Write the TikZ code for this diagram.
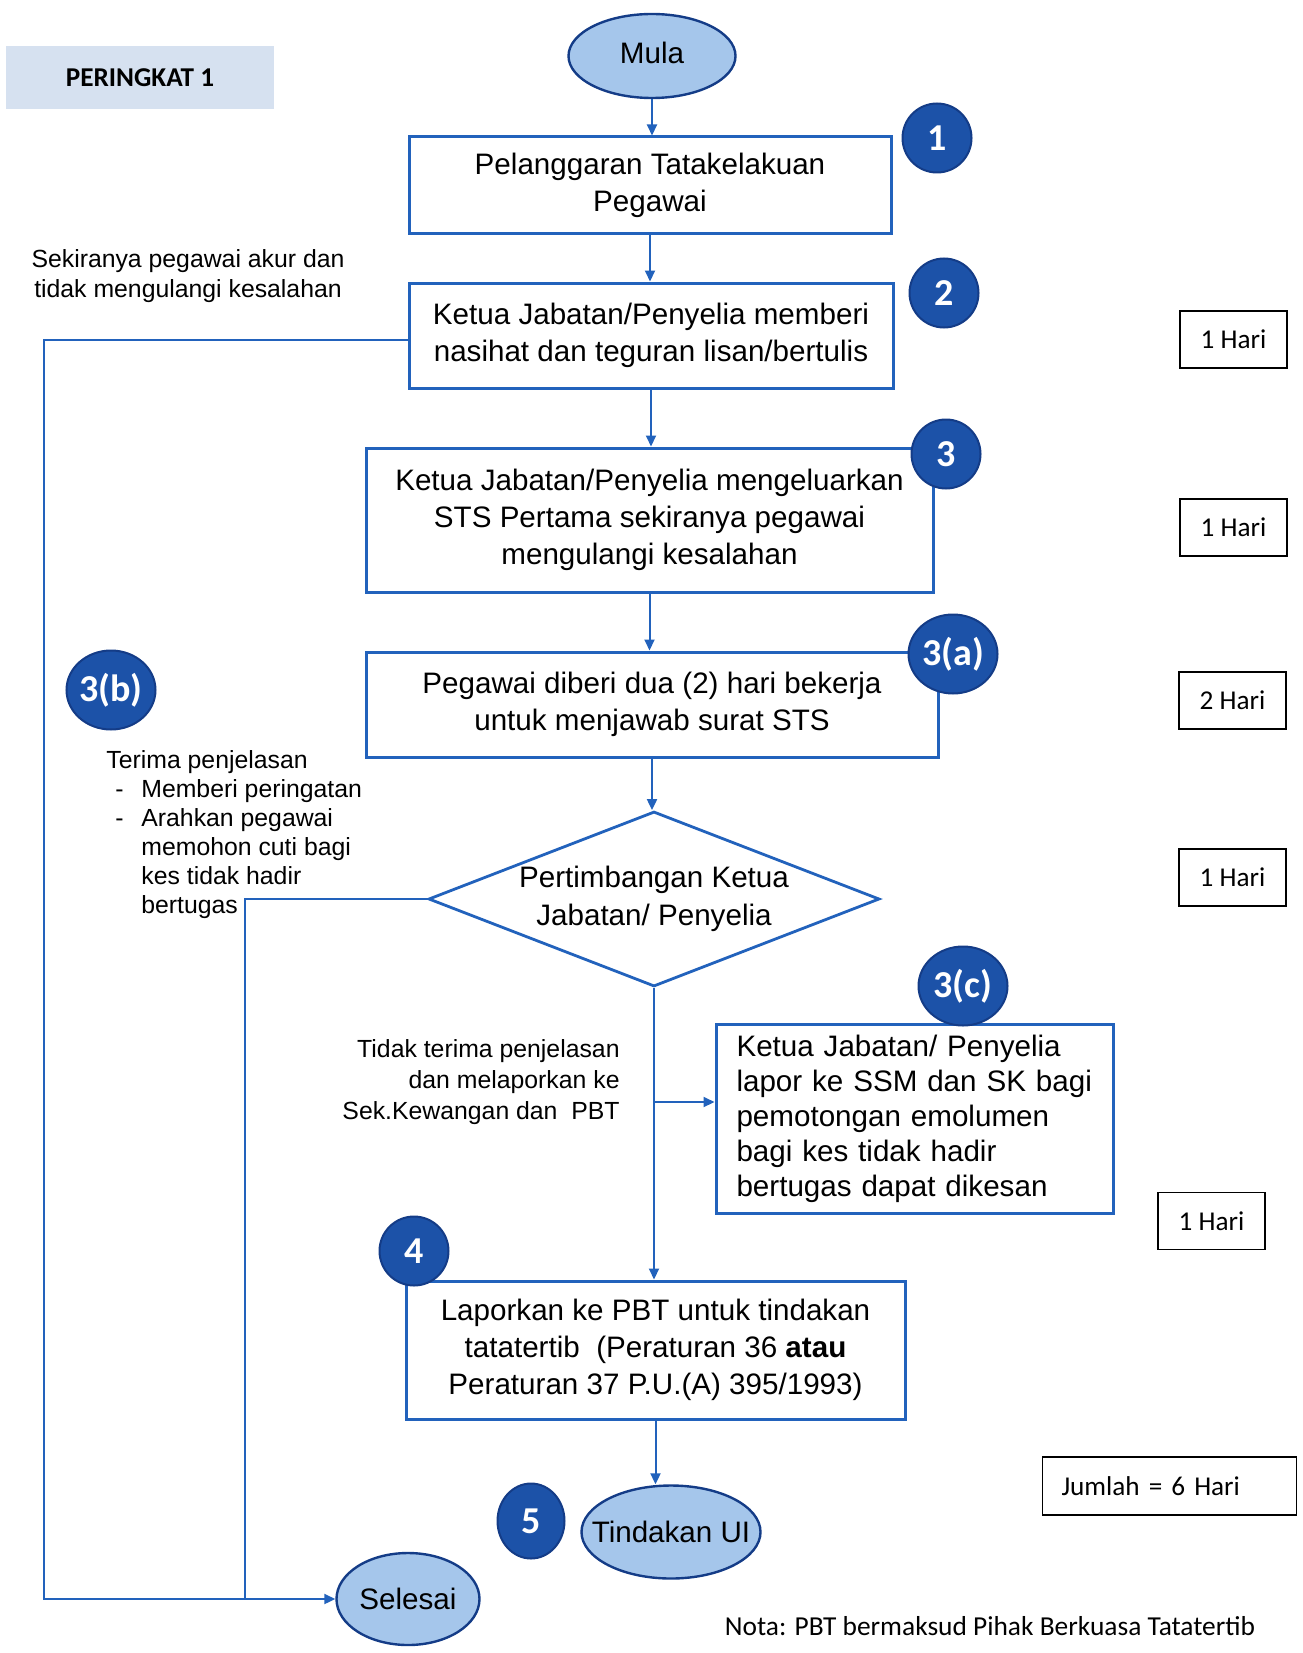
\documentclass[tikz,border=0pt]{standalone}
\usepackage{fontspec}
\setmainfont{Liberation Sans}
\newfontfamily\cbri{Carlito}
\usetikzlibrary{arrows.meta,positioning,shapes.geometric}
\definecolor{lineblue}{RGB}{34,98,188}
\definecolor{badgeblue}{RGB}{28,82,168}
\definecolor{badgerim}{RGB}{20,60,135}
\definecolor{ovalfill}{RGB}{165,198,235}
\definecolor{tagfill}{RGB}{214,225,240}
\tikzset{
	box/.style={draw=lineblue,line width=1.5pt,rectangle,align=center,inner sep=0pt,font=\fontsize{14.8}{18.5}\selectfont},
	dia/.style={draw=lineblue,line width=1.4pt,diamond,aspect=2.58,inner sep=0pt,align=center,minimum width=225.5pt,minimum height=87.5pt,font=\fontsize{14.8}{19}\selectfont},
	oval/.style={draw=badgerim,line width=1.2pt,fill=ovalfill,ellipse,inner sep=0pt,font=\fontsize{14.8}{17}\selectfont},
	badge/.style={draw=badgerim,line width=1pt,fill=badgeblue,ellipse,inner sep=-2pt,minimum width=34.5pt,minimum height=34.5pt,text=white,font=\cbri\bfseries\fontsize{19}{20}\selectfont},
	bigbadge/.style={badge,minimum width=44.5pt,minimum height=39.5pt},
	hari/.style={draw=black,line width=0.7pt,rectangle,inner sep=0pt,minimum width=53.5pt,minimum height=28.5pt,font=\cbri\fontsize{13.6}{16}\selectfont},
	tag/.style={fill=tagfill,rectangle,inner sep=0pt,minimum width=134pt,minimum height=31.5pt,font=\cbri\bfseries\fontsize{13.6}{16}\selectfont},
	note/.style={inner sep=0pt,font=\fontsize{12.4}{15}\selectfont},
	conn/.style={draw=lineblue,line width=1pt},
	arr/.style={conn,-{Triangle[length=5.5pt,width=5pt]}}
}
\begin{document}
\begin{tikzpicture}[x=0.5pt,y=-0.5pt]
	\useasboundingbox (0,0) rectangle (1302,1653);
	\node[tag] (lvl) at (140,77.5) {PERINGKAT 1};
	\node[oval,minimum width=83.5pt,minimum height=42pt] (mula) at (652,56) {\raisebox{3pt}{Mula}};
	\node[box,minimum width=241pt,minimum height=48.5pt] (b1) at (650,185.5) {Pelanggaran Tatakelakuan\\Pegawai};
	\node[box,minimum width=242pt,minimum height=52.5pt] (b2) at (651,335.5) {Ketua Jabatan/Penyelia memberi\\nasihat dan teguran lisan/bertulis};
	\node[box,minimum width=283.5pt,minimum height=72pt] (b3) at (649.5,520) {Ketua Jabatan/Penyelia mengeluarkan\\STS Pertama sekiranya pegawai\\mengulangi kesalahan};
	\node[box,minimum width=286pt,minimum height=52.5pt] (b3a) at (652,704.5) {Pegawai diberi dua (2) hari bekerja\\untuk menjawab surat STS};
	\node[dia] (dm) at (654,899) {Pertimbangan Ketua\\Jabatan/ Penyelia};
	\node[box,align=left,text width=178pt,minimum width=198.5pt,minimum height=94.5pt,font=\fontsize{14.8}{17.5}\selectfont] (b3c) at (914.5,1118.5) {Ketua Jabatan/ Penyelia\\lapor ke SSM dan SK bagi\\pemotongan emolumen\\bagi kes tidak hadir\\bertugas dapat dikesan};
	\node[box,minimum width=249.5pt,minimum height=69pt] (b4) at (655.5,1350) {Laporkan ke PBT untuk tindakan\\tatatertib\ \ (Peraturan 36 \textbf{atau}\\Peraturan 37 P.U.(A) 395/1993)};
	\node[oval,minimum width=89.5pt,minimum height=46.5pt,inner xsep=-9pt] (tu) at (671,1532) {Tindakan UI};
	\node[oval,minimum width=71.5pt,minimum height=46pt] (sel) at (408,1599) {Selesai};

	\node[badge] (n1) at (937,138) {1};
	\node[badge] (n2) at (944,293) {2};
	\node[badge] (n3) at (946,454) {3};
	\node[bigbadge] (n3a) at (953,654) {3(a)};
	\node[bigbadge] (n3b) at (111,690) {3(b)};
	\node[bigbadge] (n3c) at (963,986) {3(c)};
	\node[badge] (n4) at (414,1251) {4};
	\node[badge,minimum width=33.5pt,minimum height=37.5pt] (n5) at (531,1521) {5};

	\node[hari] (h1) at (1233.5,339.5) {1 Hari};
	\node[hari] (h2) at (1233.5,527.5) {1 Hari};
	\node[hari] (h3) at (1232.5,700.5) {2 Hari};
	\node[hari] (h4) at (1232.5,877.5) {1 Hari};
	\node[hari] (h5) at (1211.5,1221) {1 Hari};
	\node[hari,align=left,text width=108pt,minimum height=29pt,inner xsep=9.5pt] (jml) at (1169.5,1486) {Jumlah = 6 Hari};
	\node[inner sep=0pt,font=\cbri\fontsize{13.7}{16}\selectfont] (nota) at (990,1626) {Nota: PBT bermaksud Pihak Berkuasa Tatatertib};

	\node[note,align=center] (akur) at (188,276) {Sekiranya pegawai akur dan\\tidak mengulangi kesalahan};
	\node[note,anchor=north west,font=\fontsize{12.4}{14.5}\selectfont] (terima) at (106,748) {\begin{tabular}{@{}p{17.5pt}@{}l@{}}
		\multicolumn{2}{@{}l@{}}{Terima penjelasan}\\
		\hspace*{4.5pt}- & Memberi peringatan\\
		\hspace*{4.5pt}- & Arahkan pegawai\\
		& memohon cuti bagi\\
		& kes tidak hadir\\
		& bertugas
	\end{tabular}};
	\node[note,align=right,anchor=east,font=\fontsize{12.4}{15.5}\selectfont] (tidak) at (620,1082) {Tidak terima penjelasan\\dan melaporkan ke\\Sek.Kewangan dan\ \ PBT};

	\coordinate (lx) at (44,0);
	\coordinate (jx) at (245,0);
	\coordinate (br) at (dm |- 0,1102);
	\draw[arr] (mula) -- (mula |- b1.north);
	\draw[arr] (b1) -- (b1 |- b2.north);
	\draw[arr] (b2) -- (b2 |- b3.north);
	\draw[arr] (b3) -- (b3 |- b3a.north);
	\draw[arr] (b3a) -- (b3a |- dm.north);
	\draw[arr] (dm) -- (dm |- b4.north);
	\draw[arr] (br) -- (br -| b3c.west);
	\draw[arr] (b4) -- (b4 |- tu.north);
	\draw[arr] (b2.west |- 0,340) -- (lx |- 0,340) |- (sel.west);
	\draw[conn] (dm.west) -| (jx |- sel.west);
\end{tikzpicture}
\end{document}
